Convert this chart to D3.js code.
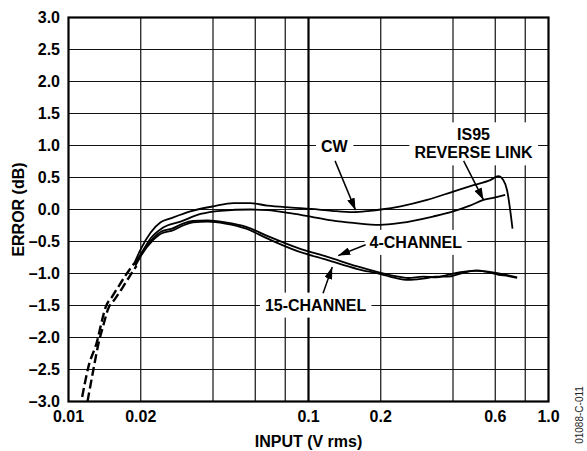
<!DOCTYPE html>
<html>
<head>
<meta charset="utf-8">
<script src="https://cdn.jsdelivr.net/npm/d3@7"></script>
<style>
  html, body { margin: 0; padding: 0; background: #fff; }
  svg { display: block; }
  text { font-family: "Liberation Sans", Arial, Helvetica, sans-serif; }
</style>
</head>
<body>
<svg id="chart" width="587" height="451"></svg>
<script>
// ---------------- data ----------------
const yTicks = [-3.0, -2.5, -2.0, -1.5, -1.0, -0.5, 0.0, 0.5, 1.0, 1.5, 2.0, 2.5, 3.0];
const xTickLabels = [0.01, 0.02, 0.1, 0.2, 0.6, 1.0];
const xGrid = [0.02, 0.04, 0.06, 0.08, 0.2, 0.4, 0.6, 0.8];
const xBold = [0.1];

// dashed low-input portions (V rms, dB)
const dashA = [[0.0114,-2.93],[0.0121,-2.46],[0.0132,-2.04],[0.0136,-1.83],[0.0143,-1.52],[0.0152,-1.36],[0.0163,-1.18],[0.0175,-1.0],[0.0188,-0.84]];
const dashB = [[0.0120,-3.0],[0.0127,-2.5],[0.0134,-2.06],[0.0139,-1.84],[0.0146,-1.56],[0.0156,-1.40],[0.0168,-1.22],[0.0180,-1.04],[0.0192,-0.88]];

const cw = [[0.0188,-0.84],[0.02,-0.62],[0.022,-0.36],[0.0242,-0.20],[0.0266,-0.14],[0.0322,-0.03],[0.0402,0.05],[0.0487,0.10],[0.0573,0.10],[0.0674,0.06],[0.085,0.03],[0.1023,0.01],[0.125,-0.02],[0.154,-0.04],[0.18,-0.02],[0.2,0.0],[0.242,0.05],[0.312,0.15],[0.401,0.28],[0.487,0.38],[0.572,0.46],[0.618,0.52],[0.648,0.46],[0.672,0.30],[0.708,-0.30]];
const is95 = [[0.019,-0.86],[0.0203,-0.66],[0.022,-0.45],[0.0246,-0.29],[0.0293,-0.19],[0.0355,-0.07],[0.0429,-0.02],[0.0573,0.0],[0.0674,-0.01],[0.085,-0.06],[0.102,-0.11],[0.125,-0.17],[0.154,-0.21],[0.199,-0.24],[0.242,-0.21],[0.33,-0.11],[0.401,-0.03],[0.47,0.06],[0.536,0.15],[0.6,0.19],[0.66,0.23]];
const ch4 = [[0.0188,-0.86],[0.02,-0.70],[0.0225,-0.45],[0.0245,-0.34],[0.027,-0.30],[0.030,-0.22],[0.033,-0.18],[0.038,-0.17],[0.045,-0.20],[0.055,-0.27],[0.068,-0.42],[0.09,-0.60],[0.12,-0.74],[0.16,-0.89],[0.2,-0.99],[0.23,-1.04],[0.26,-1.07],[0.3,-1.05],[0.34,-1.06],[0.38,-1.02],[0.43,-0.98],[0.5,-0.96],[0.56,-0.97],[0.62,-1.0],[0.68,-1.03],[0.74,-1.06]];
const ch15 = [[0.019,-0.88],[0.02,-0.73],[0.0225,-0.48],[0.0245,-0.37],[0.027,-0.33],[0.030,-0.25],[0.033,-0.20],[0.038,-0.19],[0.045,-0.22],[0.055,-0.30],[0.068,-0.46],[0.09,-0.65],[0.12,-0.79],[0.16,-0.93],[0.2,-1.01],[0.23,-1.07],[0.26,-1.10],[0.3,-1.08],[0.34,-1.05],[0.38,-1.05],[0.43,-1.0],[0.5,-0.95],[0.56,-0.98],[0.62,-1.02],[0.68,-1.04],[0.74,-1.07]];

// annotations: label lines, label anchor (V, dB), arrow from/to (V, dB)
const labels = [
  { lines: ["CW"], at: [0.128, 0.99], from: [0.129, 0.76], to: [0.157, -0.01] },
  { lines: ["IS95", "REVERSE LINK"], at: [0.487, 1.03], from: [0.443, 0.76], to: [0.536, 0.15] },
  { lines: ["4-CHANNEL"], at: [0.28, -0.51], from: [0.173, -0.55], to: [0.133, -0.72] },
  { lines: ["15-CHANNEL"], at: [0.107, -1.49], from: [0.115, -1.31], to: [0.1256, -0.90] }
];
const xTitle = "INPUT (V rms)";
const yTitle = "ERROR (dB)";
const figId = "01088-C-011";

// ---------------- drawing ----------------
const svg = d3.select("#chart");
const x = d3.scaleLog().domain([0.01, 1]).range([68.5, 548.5]);
const y = d3.scaleLinear().domain([-3, 3]).range([401.5, 17.5]);
const FS = 16;

const grid = svg.append("g");
grid.selectAll("line.h").data(yTicks).join("line")
  .attr("x1", x(0.01)).attr("x2", x(1))
  .attr("y1", d => y(d)).attr("y2", d => y(d))
  .attr("stroke", "#111").attr("stroke-width", 1.2);
grid.selectAll("line.v").data(xGrid).join("line")
  .attr("x1", d => x(d)).attr("x2", d => x(d))
  .attr("y1", y(3)).attr("y2", y(-3))
  .attr("stroke", "#111").attr("stroke-width", 1.2);
grid.selectAll("line.b").data(xBold).join("line")
  .attr("x1", d => x(d)).attr("x2", d => x(d))
  .attr("y1", y(3)).attr("y2", y(-3))
  .attr("stroke", "#000").attr("stroke-width", 2.2);

svg.append("rect")
  .attr("x", x(0.01)).attr("y", y(3))
  .attr("width", x(1) - x(0.01)).attr("height", y(-3) - y(3))
  .attr("fill", "none").attr("stroke", "#000").attr("stroke-width", 2.2);

const fmtY = d => (d < 0 ? "\u2013" : "") + Math.abs(d).toFixed(1);
svg.append("g").selectAll("text").data(yTicks).join("text")
  .attr("x", 60).attr("y", d => y(d))
  .attr("dy", "0.36em")
  .attr("text-anchor", "end")
  .attr("font-size", FS).attr("font-weight", "bold")
  .text(fmtY);

const fmtX = d => d === 1 ? "1.0" : String(d);
svg.append("g").selectAll("text").data(xTickLabels).join("text")
  .attr("x", d => x(d)).attr("y", 422)
  .attr("text-anchor", "middle")
  .attr("font-size", FS).attr("font-weight", "bold")
  .text(fmtX);

svg.append("text")
  .attr("x", (x(0.01) + x(1)) / 2).attr("y", 446.5)
  .attr("text-anchor", "middle")
  .attr("font-size", FS).attr("font-weight", "bold")
  .text(xTitle);
svg.append("text")
  .attr("transform", `translate(24,${(y(3) + y(-3)) / 2}) rotate(-90)`)
  .attr("text-anchor", "middle")
  .attr("font-size", FS).attr("font-weight", "bold")
  .text(yTitle);
svg.append("text")
  .attr("transform", `translate(583,415) rotate(-90)`)
  .attr("text-anchor", "middle")
  .attr("font-size", 10)
  .attr("fill", "#222")
  .text(figId);

const line = d3.line().x(d => x(d[0])).y(d => y(d[1])).curve(d3.curveMonotoneX);
const curves = svg.append("g").attr("fill", "none").attr("stroke", "#000").attr("stroke-linejoin", "round");
[dashA, dashB].forEach(s => {
  curves.append("path").attr("d", line(s))
    .attr("stroke-width", 2.4).attr("stroke-dasharray", "9,4");
});
[cw, is95, ch4, ch15].forEach(s => {
  curves.append("path").attr("d", line(s)).attr("stroke-width", 1.8);
});

svg.append("defs").append("marker")
  .attr("id", "ah").attr("markerUnits", "userSpaceOnUse")
  .attr("viewBox", "0 0 12 8").attr("refX", 12).attr("refY", 4)
  .attr("markerWidth", 12).attr("markerHeight", 8)
  .attr("orient", "auto")
  .append("path").attr("d", "M0,0 L12,4 L0,8 Z").attr("fill", "#000");

const lg = svg.append("g");
labels.forEach(l => {
  const g = lg.append("g");
  const cx = x(l.at[0]), cy = y(l.at[1]);
  const lh = 18;
  const n = l.lines.length;
  g.selectAll("text").data(l.lines).join("text")
    .attr("x", cx)
    .attr("y", (d, i) => cy + (i - (n - 1) / 2) * lh)
    .attr("dy", "0.36em")
    .attr("text-anchor", "middle")
    .attr("font-size", FS).attr("font-weight", "bold")
    .text(d => d);
  const bb = g.node().getBBox();
  g.insert("rect", "text")
    .attr("x", bb.x - 5).attr("y", bb.y - 4)
    .attr("width", bb.width + 10).attr("height", bb.height + 8)
    .attr("fill", "#fff");
  lg.append("line")
    .attr("x1", x(l.from[0])).attr("y1", y(l.from[1]))
    .attr("x2", x(l.to[0])).attr("y2", y(l.to[1]))
    .attr("stroke", "#000").attr("stroke-width", 1.5)
    .attr("marker-end", "url(#ah)");
});
</script>
</body>
</html>
